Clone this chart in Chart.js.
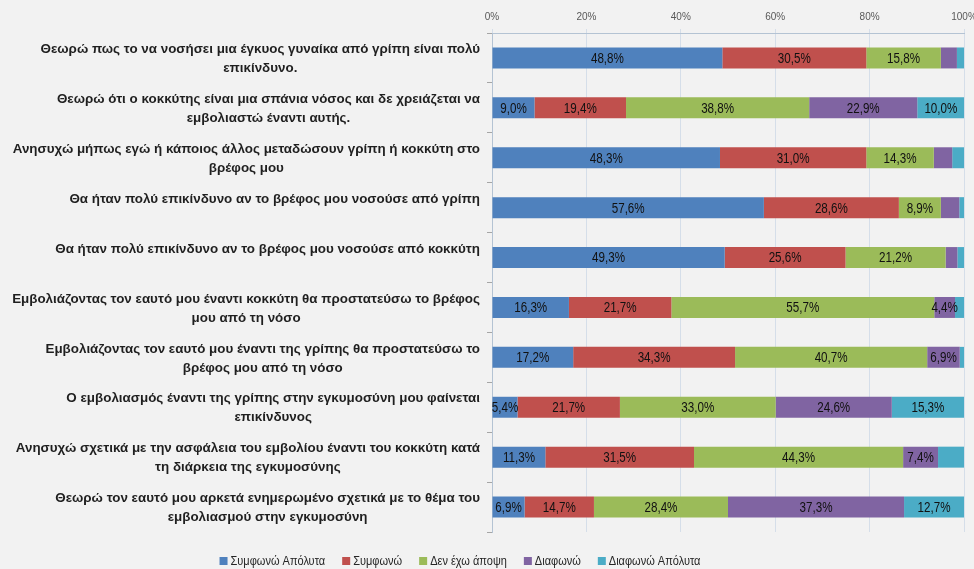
<!DOCTYPE html>
<html><head><meta charset="utf-8">
<script src="https://cdn.jsdelivr.net/npm/chart.js@4.4.0/dist/chart.umd.min.js"></script>
<style>html,body{margin:0;padding:0;background:#F2F2F2;} #wrap{width:974px;height:569px;position:relative;}</style>
</head><body><div id="wrap"><canvas id="c"></canvas></div>
<script>
const categories = [
 ["Θεωρώ πως το να νοσήσει μια έγκυος γυναίκα από γρίπη είναι πολύ","επικίνδυνο."],
 ["Θεωρώ ότι ο κοκκύτης είναι μια σπάνια νόσος και δε χρειάζεται να","εμβολιαστώ έναντι αυτής."],
 ["Ανησυχώ μήπως εγώ ή κάποιος άλλος μεταδώσουν γρίπη ή κοκκύτη στο","βρέφος μου"],
 ["Θα ήταν πολύ επικίνδυνο αν το βρέφος μου νοσούσε από γρίπη"],
 ["Θα ήταν πολύ επικίνδυνο αν το βρέφος μου νοσούσε από κοκκύτη"],
 ["Εμβολιάζοντας τον εαυτό μου έναντι κοκκύτη θα προστατεύσω το βρέφος","μου από τη νόσο"],
 ["Εμβολιάζοντας τον εαυτό μου έναντι της γρίπης θα προστατεύσω το","βρέφος μου από τη νόσο"],
 ["Ο εμβολιασμός έναντι της γρίπης στην εγκυμοσύνη μου φαίνεται","επικίνδυνος"],
 ["Ανησυχώ σχετικά με την ασφάλεια του εμβολίου έναντι του κοκκύτη κατά","τη διάρκεια της εγκυμοσύνης"],
 ["Θεωρώ τον εαυτό μου αρκετά ενημερωμένο σχετικά με το θέμα του","εμβολιασμού στην εγκυμοσύνη"]
];
const seriesNames = ["Συμφωνώ Απόλυτα","Συμφωνώ","Δεν έχω άποψη","Διαφωνώ","Διαφωνώ Απόλυτα"];
const agreeFully    = [48.8,  9.0, 48.3, 57.6, 49.3, 16.3, 17.2,  5.4, 11.3,  6.9];
const agree         = [30.5, 19.4, 31.0, 28.6, 25.6, 21.7, 34.3, 21.7, 31.5, 14.7];
const noOpinion     = [15.8, 38.8, 14.3,  8.9, 21.2, 55.7, 40.7, 33.0, 44.3, 28.4];
const disagree      = [ 3.4, 22.9,  3.9,  3.9,  2.5,  4.4,  6.9, 24.6,  7.4, 37.3];
const disagreeFully = [ 1.5, 10.0,  2.5,  1.0,  1.4,  1.9,  0.9, 15.3,  5.5, 12.7];
const xTickValues = [0, 20, 40, 60, 80, 100];
// [category index, series index] of segments whose value label is not shown
const hiddenLabels = [[0,3],[0,4],[2,3],[2,4],[3,3],[3,4],[4,3],[4,4],[5,4],[6,4],[8,4]];

const colors = ["#4F81BD","#C0504D","#9BBB59","#8064A2","#4BACC6"];
const seriesValues = [agreeFully, agree, noOpinion, disagree, disagreeFully];

const PLOT_LEFT = 492;
const PLOT_RIGHT_GAP = 10;
const LABEL_FONT = 'bold 13.4px "Liberation Sans", Arial, sans-serif';
const LABEL_LH = 19;

function fillCondensed(ctx, text, x, y, sx) {
  ctx.save();
  ctx.translate(x, y);
  ctx.scale(sx, 1);
  ctx.fillText(text, 0, 0);
  ctx.restore();
}

const bgPlugin = {
  id: 'bg',
  beforeDraw(chart) {
    const ctx = chart.ctx;
    ctx.save();
    ctx.fillStyle = '#F2F2F2';
    ctx.fillRect(0, 0, chart.width, chart.height);
    ctx.restore();
  }
};

const catLabelPlugin = {
  id: 'catLabels',
  afterDraw(chart) {
    const ctx = chart.ctx;
    const y = chart.scales.y;
    ctx.save();
    ctx.font = LABEL_FONT;
    ctx.fillStyle = '#1F1F1F';
    ctx.textAlign = 'center';
    ctx.textBaseline = 'middle';
    const rightEdge = 480;
    categories.forEach((lines, i) => {
      const cy = y.getPixelForValue(i);
      const widest = Math.max(...lines.map(l => ctx.measureText(l).width));
      const cx = rightEdge - widest / 2;
      lines.forEach((l, k) => {
        ctx.fillText(l, cx, cy + (k - 0.5) * LABEL_LH + 1);
      });
    });
    ctx.restore();
  }
};

const valueLabelPlugin = {
  id: 'valueLabels',
  afterDatasetsDraw(chart) {
    const ctx = chart.ctx;
    ctx.save();
    ctx.font = '14px "Liberation Sans", Arial, sans-serif';
    ctx.fillStyle = '#111111';
    ctx.textAlign = 'center';
    ctx.textBaseline = 'middle';
    chart.data.datasets.forEach((ds, si) => {
      const meta = chart.getDatasetMeta(si);
      meta.data.forEach((bar, ci) => {
        if (hiddenLabels.some(h => h[0] === ci && h[1] === si)) return;
        const v = ds.data[ci];
        const txt = v.toFixed(1).replace('.', ',') + '%';
        fillCondensed(ctx, txt, (bar.x + bar.base) / 2, bar.y + 1, 0.83);
      });
    });
    ctx.restore();
  }
};

const legendPlugin = {
  id: 'customLegend',
  afterDraw(chart) {
    const ctx = chart.ctx;
    ctx.save();
    ctx.font = '12.5px "Liberation Sans", Arial, sans-serif';
    ctx.textBaseline = 'middle';
    ctx.textAlign = 'left';
    const sx = 0.88;
    const box = 8, boxGap = 3, itemGap = 17;
    const widths = seriesNames.map(n => box + boxGap + ctx.measureText(n).width * sx);
    const total = widths.reduce((a, b) => a + b, 0) + itemGap * (seriesNames.length - 1);
    let x = 460 - total / 2;
    const cy = 561;
    seriesNames.forEach((n, i) => {
      ctx.fillStyle = colors[i];
      ctx.fillRect(x, cy - box / 2, box, box);
      ctx.fillStyle = '#262626';
      fillCondensed(ctx, n, x + box + boxGap, cy + 1, sx);
      x += widths[i] + itemGap;
    });
    ctx.restore();
  }
};

new Chart(document.getElementById('c'), {
  type: 'bar',
  data: {
    labels: categories.map(c => c.join(' ')),
    datasets: seriesNames.map((name, i) => ({
      label: name,
      data: seriesValues[i],
      backgroundColor: colors[i],
      borderWidth: 0,
      barPercentage: 0.42,
      categoryPercentage: 1.0
    }))
  },
  options: {
    indexAxis: 'y',
    responsive: true,
    maintainAspectRatio: false,
    animation: false,
    layout: { padding: { left: 0, right: PLOT_RIGHT_GAP, top: 0, bottom: 37 } },
    plugins: {
      legend: { display: false },
      tooltip: { enabled: false }
    },
    scales: {
      x: {
        position: 'top',
        stacked: true,
        min: 0, max: 100,
        afterBuildTicks(scale) { scale.ticks = xTickValues.map(v => ({ value: v })); },
        ticks: {
          callback: v => v + '%',
          color: '#595959',
          font: { family: '"Liberation Sans", Arial, sans-serif', size: 10 },
          padding: 6,
          maxRotation: 0
        },
        grid: { color: '#D5DEE9', lineWidth: 1, tickLength: 4 },
        border: { color: '#B4C3D3' },
        afterFit(scale) { scale.height = 33; scale.paddingRight = 0; scale.paddingLeft = 0; }
      },
      y: {
        stacked: true,
        ticks: { display: false },
        grid: { offset: true, drawOnChartArea: false, color: '#A6A6A6', tickLength: 5 },
        border: { color: '#B4C3D3' },
        afterFit(scale) { scale.width = PLOT_LEFT; }
      }
    }
  },
  plugins: [bgPlugin, valueLabelPlugin, catLabelPlugin, legendPlugin]
});
</script>
</body></html>
